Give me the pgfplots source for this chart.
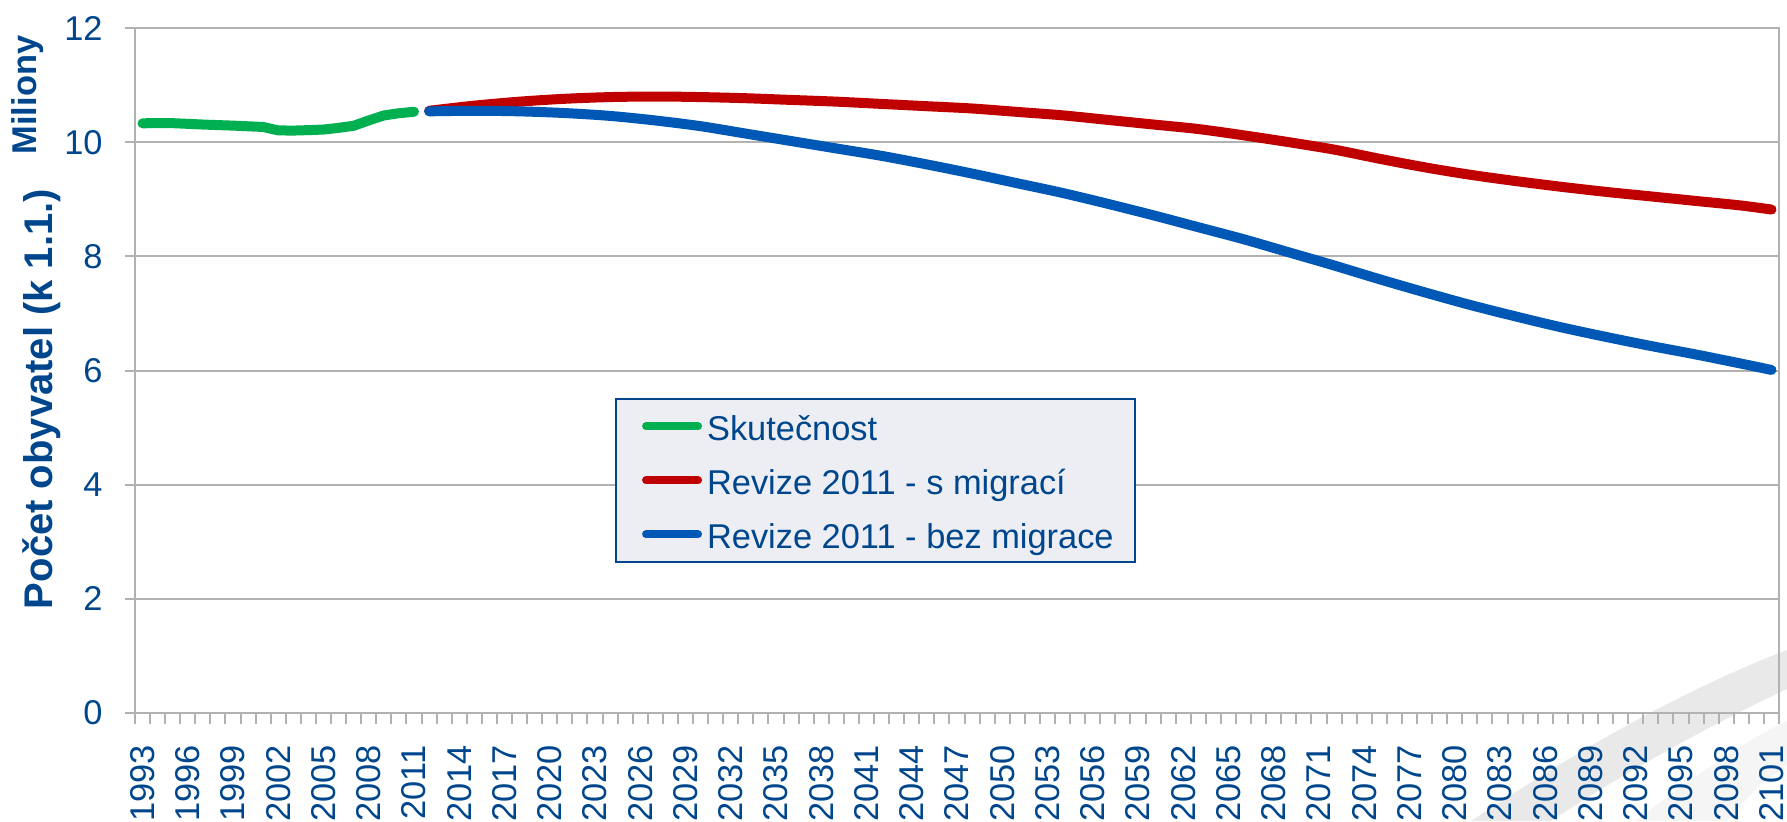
\documentclass[border=0pt]{standalone}
\usepackage{fontspec}
\setmainfont{Liberation Sans}
\usepackage{pgfplots}
\pgfplotsset{compat=1.18}
\usepackage{pgfplotstable}

\definecolor{txtblue}{RGB}{0,70,140}
\definecolor{gridgray}{RGB}{178,178,178}
\definecolor{skut}{RGB}{0,176,80}
\definecolor{smig}{RGB}{192,0,0}
\definecolor{bezmig}{RGB}{0,88,182}
\definecolor{legfill}{RGB}{236,238,243}

\newcommand\lstrut{\rule[-6.5pt]{0pt}{27pt}}

% population at 1 Jan, millions
\pgfplotstableread{
year val
1993 10.33
1994 10.336
1995 10.333
1996 10.321
1997 10.309
1998 10.299
1999 10.290
2000 10.278
2001 10.266
2002 10.206
2003 10.203
2004 10.211
2005 10.221
2006 10.251
2007 10.287
2008 10.381
2009 10.468
2010 10.507
2011 10.533
}\skutecnost

\pgfplotstableread{
year val
2012 10.55
2015 10.64
2018 10.71
2021 10.76
2024 10.79
2027 10.80
2030 10.79
2033 10.77
2036 10.74
2039 10.71
2042 10.67
2045 10.63
2048 10.59
2051 10.53
2054 10.47
2057 10.39
2060 10.31
2063 10.23
2066 10.12
2069 10.00
2072 9.87
2075 9.71
2078 9.56
2081 9.43
2084 9.32
2087 9.22
2090 9.13
2093 9.05
2096 8.97
2099 8.89
2101 8.82
}\smigraci

\pgfplotstableread{
year val
2012 10.54
2015 10.55
2018 10.54
2021 10.51
2024 10.46
2027 10.38
2030 10.28
2033 10.15
2036 10.02
2039 9.89
2042 9.76
2045 9.61
2048 9.45
2051 9.28
2054 9.11
2057 8.92
2060 8.72
2063 8.51
2066 8.30
2069 8.07
2072 7.84
2075 7.60
2078 7.37
2081 7.15
2084 6.95
2087 6.76
2090 6.59
2093 6.43
2096 6.28
2099 6.12
2101 6.01
}\bezmigrace

\begin{document}
\begin{tikzpicture}
% watermark swoosh
\fill[gray!17] (668pt,-54pt) .. controls (712pt,-25pt) and (765pt,8pt) .. (826pt,31.5pt)
  -- (826pt,12pt) .. controls (775pt,-12pt) and (732pt,-38pt) .. (708pt,-54pt) -- cycle;
\fill[gray!8] (750pt,-54pt) .. controls (772pt,-38pt) and (800pt,-16pt) .. (826pt,-4pt)
  -- (826pt,-26pt) .. controls (812pt,-36pt) .. (796pt,-54pt) -- cycle;

\begin{axis}[
    at={(0pt,0pt)}, anchor=south west,
    scale only axis,
    width=822pt, height=342.5pt,
    xmin=1992.5, xmax=2101.5,
    ymin=0, ymax=12,
    xtick={1993,1996,...,2101},
    minor xtick={1992.5,1993.5,...,2101.5},
    ytick={0,2,...,12},
    scaled x ticks=false,
    xtick pos=bottom, ytick pos=left,
    tick align=outside,
    major tick length=5pt,
    minor tick length=5.5pt,
    major x tick style={draw=none},
    tick style={draw=gridgray, line width=1pt},
    axis line style={draw=gridgray, line width=1pt},
    ymajorgrids,
    grid style={draw=gridgray, line width=1pt},
    /pgf/number format/assume math mode=true,
    /pgf/number format/1000 sep={},
    tick label style={font=\fontsize{17.2}{20.6}\selectfont, text=txtblue},
    xticklabel style={rotate=90, anchor=east, inner sep=0pt},
    yticklabel style={anchor=east, inner sep=0pt},
    xticklabel shift=11pt,
    yticklabel shift=11pt,
    legend cell align=left,
    legend style={
        at={(0.292,0.46)}, anchor=north west,
        draw=txtblue, fill=legfill, line width=1pt,
        font=\fontsize{17.2}{20.6}\selectfont, text=txtblue,
        inner xsep=10.5pt, inner ysep=0.25pt,
        row sep=0pt, column sep=0pt,
        nodes={inner sep=0pt, text depth=},
    },
    legend image code/.code={
        \draw[line width=4pt, line cap=round] (2pt,0pt) -- (28pt,0pt);
        \path (0pt,0pt) (30pt,0pt);
    },
]
\addplot[skut, line width=5pt, line cap=round, line join=round] table[x=year, y=val] {\skutecnost};
\addlegendentry{\lstrut Skutečnost}
\addplot[smig, line width=5pt, line cap=round, line join=round, smooth] table[x=year, y=val] {\smigraci};
\addlegendentry{\lstrut Revize 2011 - s migrací}
\addplot[bezmig, line width=5pt, line cap=round, line join=round, smooth] table[x=year, y=val] {\bezmigrace};
\addlegendentry{\lstrut Revize 2011 - bez migrace}
\end{axis}

\node[rotate=90, font=\bfseries\fontsize{20}{24}\selectfont, text=txtblue] at (-46.5pt,157pt) {Počet obyvatel (k 1.1.)};
\node[rotate=90, font=\bfseries\fontsize{17.2}{20}\selectfont, text=txtblue] at (-53.75pt,309pt) {Miliony};

\pgfresetboundingbox
\path (-67.5pt,-54pt) rectangle (826pt,356.5pt);
\end{tikzpicture}
\end{document}
